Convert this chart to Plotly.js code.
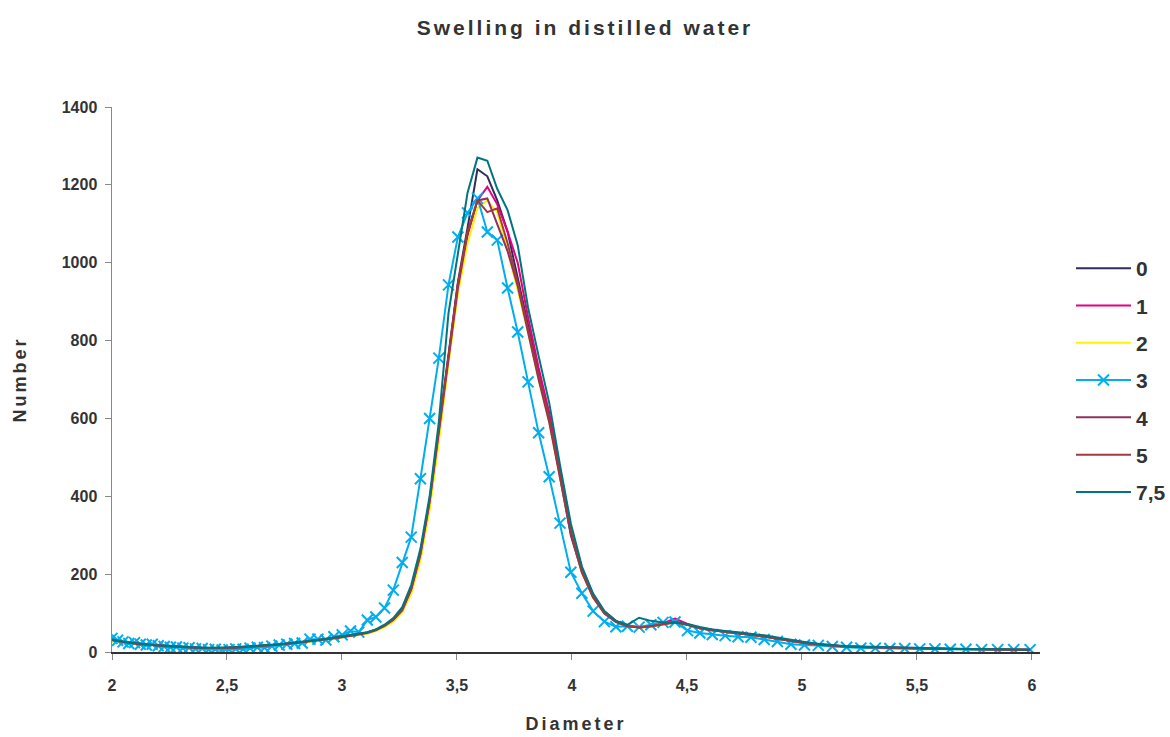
<!DOCTYPE html>
<html>
<head>
<meta charset="utf-8">
<script src="https://cdn.plot.ly/plotly-3.0.1.min.js"></script>
<style>html,body{margin:0;padding:0;background:#fff;}#chart{width:1170px;height:737px;}</style>
</head>
<body>
<div id="chart"></div>
<script>
const diameter = [
2.000,2.024,2.048,2.073,2.098,2.123,2.149,2.175,2.201,2.227,
2.254,2.280,2.308,2.335,2.363,2.392,2.420,2.449,2.479,2.509,
2.538,2.570,2.600,2.632,2.663,2.695,2.727,2.760,2.794,2.827,
2.861,2.895,2.930,2.965,3.001,3.037,3.073,3.110,3.147,3.185,
3.223,3.262,3.301,3.341,3.381,3.421,3.463,3.504,3.546,3.589,
3.632,3.675,3.720,3.764,3.809,3.855,3.901,3.948,3.995,4.043,
4.092,4.141,4.191,4.241,4.292,4.343,4.396,4.448,4.502,4.556,
4.610,4.666,4.722,4.778,4.836,4.893,4.952,5.011,5.071,5.132,
5.194,5.256,5.319,5.382,5.447,5.512,5.578,5.645,5.713,5.781,
5.851,5.921,5.992];

const seriesNames = ["0","1","2","3","4","5","7,5"];
const seriesColors = ["#2f2d5e","#e5007d","#fff200","#00aeef","#8e3060","#a03a40","#00757f"];

const s0 = [30,27,26,23,22,21,19,17,16,15, 14,13,12,12,11,10,10,9,10,11, 11,12,13,14,15,17,19,21,23,25, 28,30,32,35,39,42,
  45,50,57,68,84,110,165,255,390,570, 770,950,1090,1240,1222,1160,1080,965,840,715, 600,450,300,205,140,100,
  78,67,64,67,73,78,70,61,56,52, 49,45,40,34,28,23,19,16,14,13, 12,11,10,10,9,8,8,7,7,6,6];
const s1 = [28,29,25,24,21,20,20,18,15,15, 13,14,12,11,11,10,9,10,9,10, 12,12,12,14,16,16,18,20,22,26, 27,29,33,36,38,41,
  44,49,56,66,80,104,155,245,380,560, 760,945,1070,1160,1195,1150,1080,1000,860,730, 615,470,320,215,148,104,
  80,68,63,66,74,86,72,62,57,53, 50,46,41,35,29,24,19,16,15,13, 12,11,11,10,9,8,8,7,7,6,6];
const s2 = [27,26,24,22,21,19,18,17,15,14, 13,12,11,11,10,9,9,8,9,10, 10,11,12,13,15,16,18,20,22,24, 27,29,31,34,37,40,
  43,47,54,64,78,102,150,235,365,540, 740,920,1050,1140,1160,1130,1030,930,820,700, 590,450,310,205,140,100,
  78,67,62,65,71,76,70,61,56,52, 49,45,40,34,28,23,19,16,14,12, 11,10,10,9,8,8,7,7,6,6,6];
const s3 = [35,30,26,22,24,20,18,20,16,14, 12,13,10,11,8,9,6,7,5,6, 8,7,10,12,11,15,18,20,22,23, 33,33,31,39,44,54,
  51,82,90,113,159,230,295,445,600,755, 943,1066,1128,1166,1079,1058,935,822,694,563, 450,331,205,151,105,78,
  65,66,64,70,76,77,55,49,45,42, 39,38,32,27,20,18,17,14,12,10, 10,9,9,8,8,7,7,6,6,6,6];
const s4 = [30,28,25,23,22,20,19,18,16,15, 14,13,12,12,11,10,10,10,10,11, 11,12,13,14,15,17,19,21,23,25, 28,30,33,35,38,42,
  45,49,56,67,82,107,160,250,385,560, 755,935,1075,1160,1165,1100,1030,940,820,700, 590,450,305,205,140,99,
  77,66,63,66,72,77,70,61,56,52, 49,45,40,34,28,23,19,16,14,13, 12,11,10,10,9,8,8,7,7,6,6];
const s5 = [31,28,26,24,22,21,19,18,16,15, 14,13,13,12,11,11,10,10,10,11, 12,12,13,14,16,17,19,21,23,26, 28,31,33,36,39,42,
  46,50,57,68,84,110,162,252,388,565, 765,945,1080,1160,1130,1140,1050,950,830,710, 600,455,310,207,142,100,
  79,67,63,66,72,76,70,61,56,52, 49,45,40,34,28,23,19,16,14,13, 12,11,10,10,9,8,8,7,7,6,6];
const s75 = [32,29,27,25,23,21,20,18,17,16, 15,14,13,13,12,11,11,11,11,12, 12,13,14,15,16,18,20,22,24,26, 29,31,34,37,40,44,
  47,51,58,70,87,115,172,265,400,590, 870,1020,1180,1270,1262,1190,1135,1045,885,760, 640,480,330,220,150,105,
  80,70,88,80,76,76,72,64,58,54, 51,48,43,37,31,26,21,18,15,14, 13,12,11,11,10,9,8,8,7,7,6];

const allSeries = [s0,s1,s2,s3,s4,s5,s75];

const xTickVals = [2,2.5,3,3.5,4,4.5,5,5.5,6];
const xTickText = ["2","2,5","3","3,5","4","4,5","5","5,5","6"];
const yTickVals = [0,200,400,600,800,1000,1200,1400];

const baseFont = "Liberation Sans, Arial, Helvetica, sans-serif";

const traces = allSeries.map((ys, i) => {
  const t = {
    type: "scatter",
    x: diameter,
    y: ys,
    name: seriesNames[i],
    legendgroup: "g" + i,
    mode: "lines",
    line: {color: seriesColors[i], width: 2},
    hoverinfo: "x+y+name"
  };
  if (seriesNames[i] === "3") {
    t.mode = "lines+markers";
    t.marker = {symbol: "x-thin", size: 11, color: seriesColors[i], line: {color: seriesColors[i], width: 2}};
  }
  return t;
});

const layout = {
  width: 1170,
  height: 737,
  paper_bgcolor: "#ffffff",
  plot_bgcolor: "#ffffff",
  margin: {l: 112, r: 130, t: 107, b: 85, autoexpand: false},
  showlegend: true,
  title: {
    text: "Swelling in distilled water",
    font: {family: baseFont, size: 21, weight: "bold", color: "#333333"},
    x: 0.5, xref: "container", xanchor: "center",
    y: 1 - 28/737, yref: "container", yanchor: "middle"
  },
  xaxis: {
    range: [2, 6.035],
    tickvals: xTickVals,
    ticktext: xTickText,
    ticks: "outside",
    ticklen: 6,
    tickcolor: "#888888",
    ticklabelstandoff: 12,
    showline: true,
    linecolor: "#333333",
    linewidth: 1.5,
    showgrid: false,
    zeroline: false,
    tickfont: {family: baseFont, size: 16, weight: "bold", color: "#333333"},
    title: {text: "Diameter", standoff: 24, font: {family: baseFont, size: 18, weight: "bold", color: "#333333"}}
  },
  yaxis: {
    range: [0, 1400],
    tickvals: yTickVals,
    ticks: "outside",
    ticklen: 6,
    tickcolor: "#888888",
    ticklabelstandoff: 4,
    showline: true,
    linecolor: "#888888",
    linewidth: 1.5,
    showgrid: false,
    zeroline: false,
    tickfont: {family: baseFont, size: 16, weight: "bold", color: "#333333"},
    title: {text: "Number", standoff: 30, font: {family: baseFont, size: 18, weight: "bold", color: "#333333"}}
  },
  legend: {
    xref: "container", yref: "container",
    x: 1071/1170, xanchor: "left",
    y: 1 - 248/737, yanchor: "top",
    traceorder: "grouped",
    tracegroupgap: 7,
    itemwidth: 55,
    font: {family: baseFont, size: 21, weight: "bold", color: "#333333"},
    bgcolor: "rgba(0,0,0,0)"
  }
};

Plotly.newPlot("chart", traces, layout, {staticPlot: true, displayModeBar: false}).then(function (gd) {
  const spaced = gd.querySelectorAll(".gtitle, .xtitle, .ytitle");
  spaced.forEach(function (el) { el.style.letterSpacing = "3px"; });
});
</script>
</body>
</html>
